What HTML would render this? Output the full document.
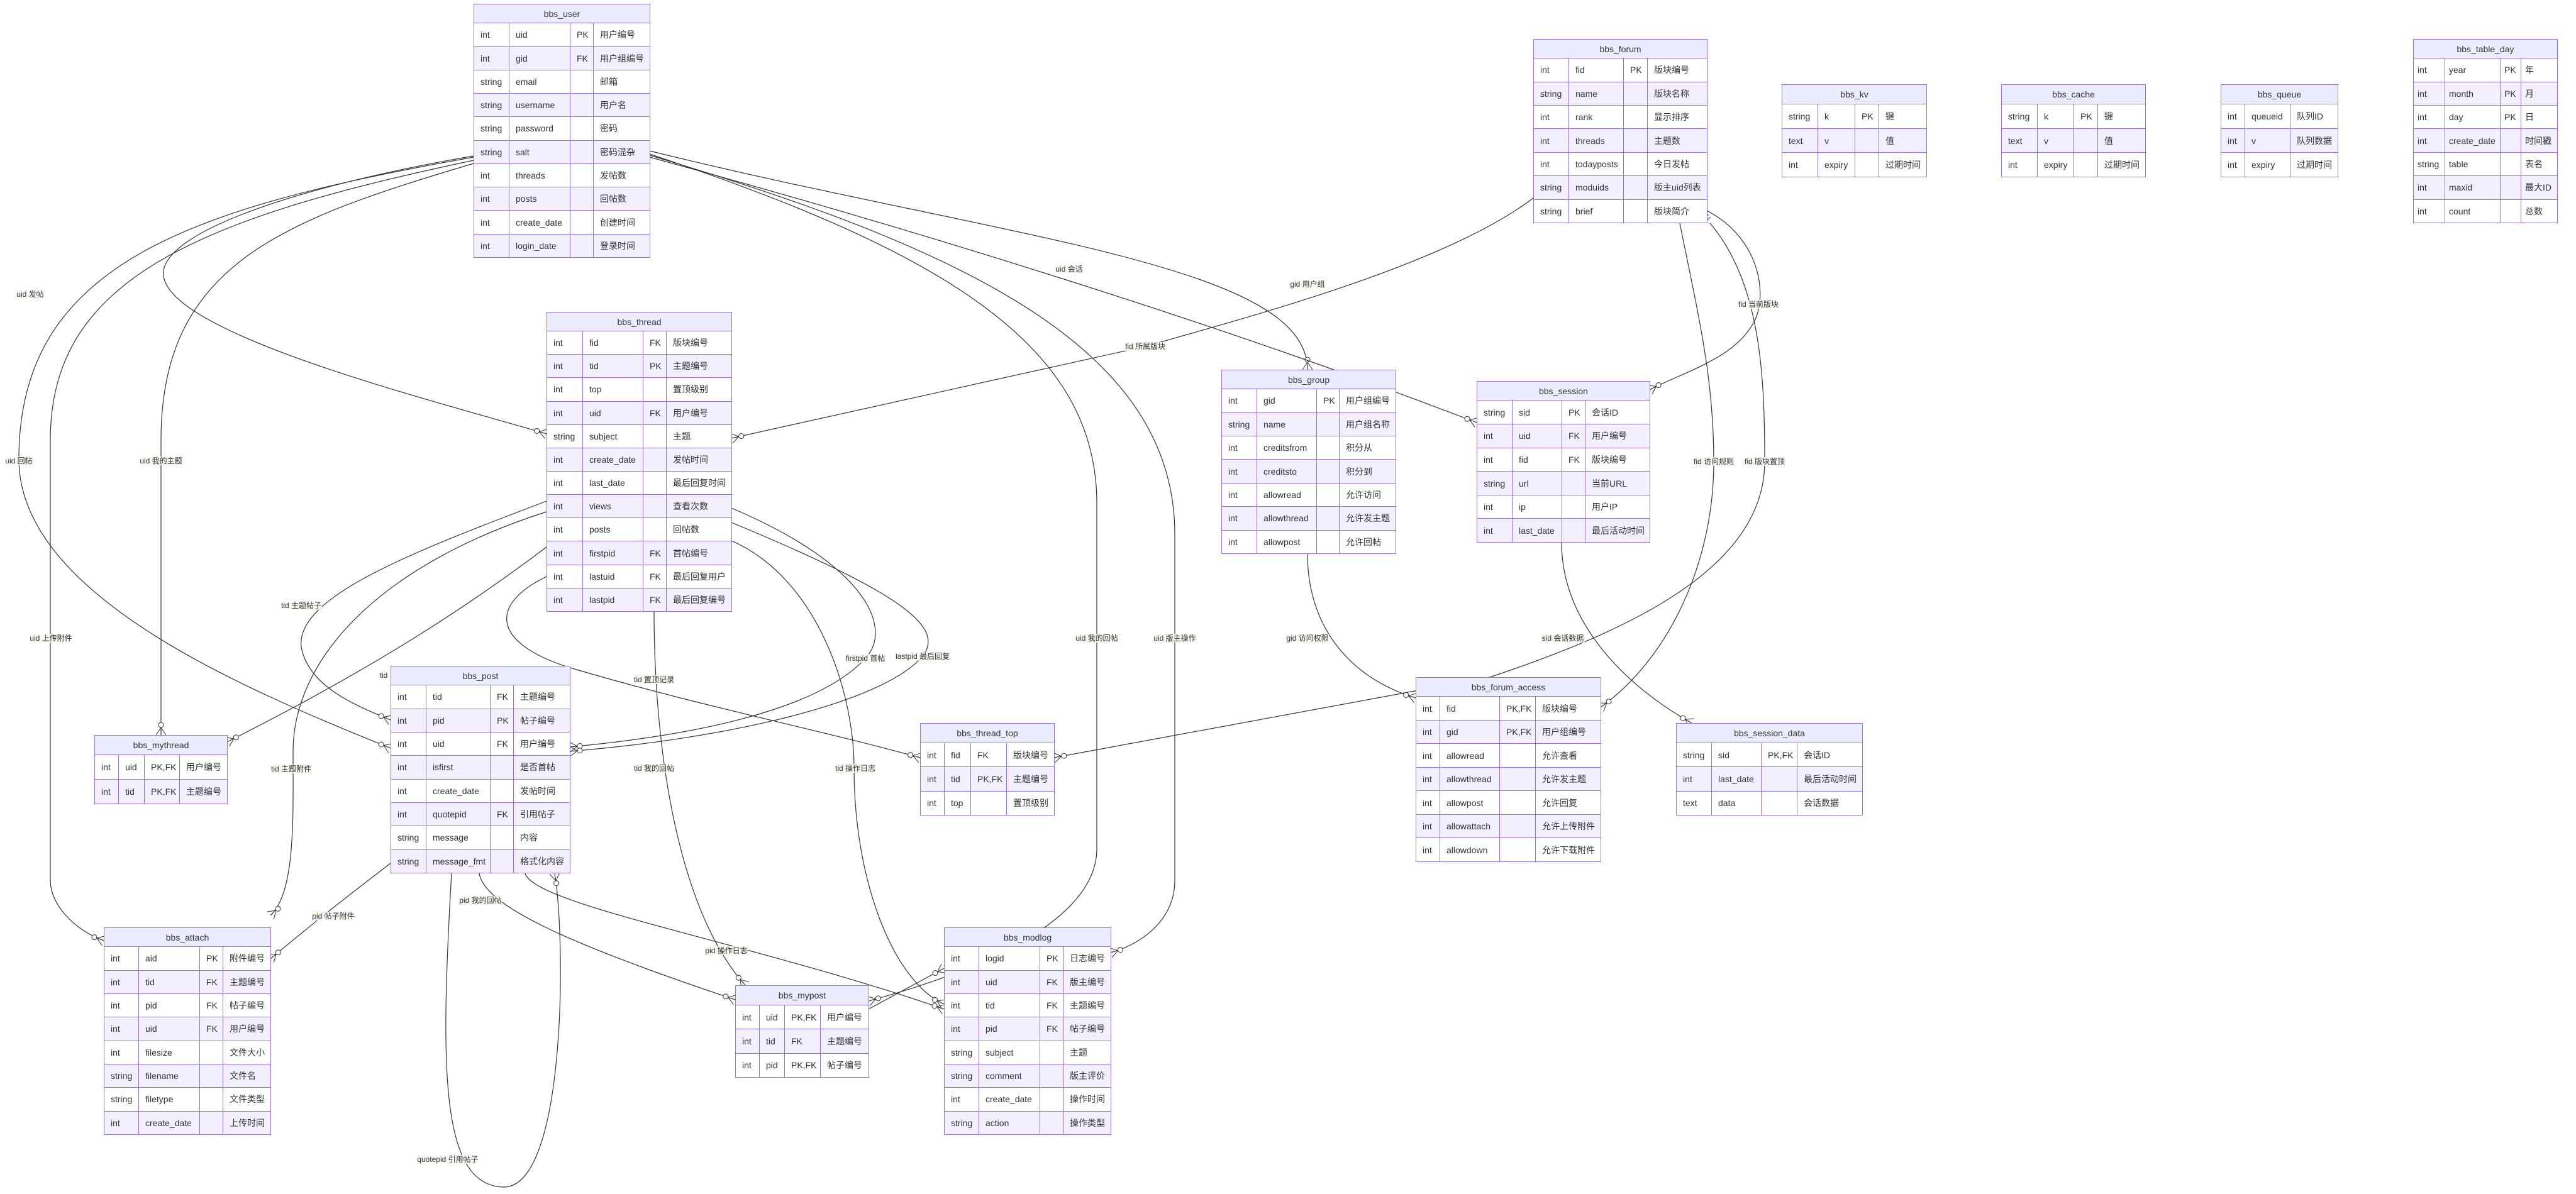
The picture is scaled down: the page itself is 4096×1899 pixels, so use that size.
<!DOCTYPE html>
<html><head><meta charset="utf-8">
<style>
html,body{margin:0;padding:0;background:#fff;}
body{width:4096px;height:1899px;position:relative;overflow:hidden;}
svg{position:absolute;left:0;top:0;}
table{position:absolute;border-collapse:collapse;table-layout:fixed;font-family:"Liberation Sans","Noto Sans CJK SC",sans-serif;font-size:14px;color:#333;background:#fff;}
td,th{border:1.5px solid #9370DB;padding:0 0 0 10px;white-space:nowrap;overflow:hidden;text-align:left;}
th{background:#ECECFF;font-weight:normal;text-align:center;padding:0;}
tr:nth-child(odd) td{background:#F2F0FF;}
table.tight td{padding-left:6px;}
.l{position:absolute;font-family:"Liberation Sans","Noto Sans CJK SC",sans-serif;font-size:12px;color:#333;background:rgba(244,248,236,0.85);transform:translate(-50%,-50%);white-space:nowrap;line-height:14px;padding:0 1px;}
</style></head><body>
<svg width="4096" height="1899" viewBox="0 0 4096 1899">
<defs>
<marker id="e" viewBox="0 0 22 20" refX="21" refY="10" markerWidth="22" markerHeight="20" orient="auto" markerUnits="userSpaceOnUse"><circle cx="5" cy="10" r="4" fill="#fff" stroke="#333" stroke-width="1"/><path d="M9,10 L21,2 M9,10 L21,18" fill="none" stroke="#333" stroke-width="1"/></marker>
<marker id="s" viewBox="0 0 20 20" refX="1" refY="10" markerWidth="20" markerHeight="20" orient="auto-start-reverse" markerUnits="userSpaceOnUse"><path d="M8,3 L8,17 M13,3 L13,17" fill="none" stroke="#333" stroke-width="1"/></marker>
</defs>
<g fill="none" stroke="#333" stroke-width="1.2" marker-start="url(#s)" marker-end="url(#e)">
<path d="M753,248 C 450,300 230,380 263,449 C 300,540 700,640 869,690"/>
<path d="M753,250 C 300,330 30,420 30,730 C 30,950 400,1100 621,1190"/>
<path d="M753,255 C 300,350 80,450 80,700 L 80,1400 C 80,1440 120,1480 165,1496"/>
<path d="M753,260 C 450,350 256,420 256,700 L 256,1169"/>
<path d="M1033,240 C 1600,380 2079,420 2079,588"/>
<path d="M1033,250 C 1400,350 1900,500 2348,672"/>
<path d="M1033,245 C 1500,400 1744,550 1744,800 L1744,1350 C1744,1480 1500,1560 1381,1592"/>
<path d="M1033,247 C 1550,400 1868,560 1868,850 L1868,1400 C1868,1460 1820,1500 1766,1515"/>
<path d="M2438,315 C 2300,420 2000,500 1821,551 L 1163,697"/>
<path d="M2714,335 C 2800,380 2810,470 2790,510 C 2760,570 2680,590 2623,620"/>
<path d="M2671,355 C 2700,500 2725,600 2725,734 C 2725,900 2650,1050 2545,1125"/>
<path d="M2719,355 C 2800,450 2806,600 2806,734 C 2806,900 2600,1000 2369,1077 L 1676,1205"/>
<path d="M2079,881 C 2079,1000 2150,1080 2251,1110"/>
<path d="M2483,863 C 2483,1000 2600,1100 2690,1150"/>
<path d="M869,797 C 650,880 470,950 479,1029 C 490,1090 560,1120 621,1145"/>
<path d="M869,814 C 600,900 466,1050 466,1195 C 466,1300 470,1420 430,1456"/>
<path d="M869,870 C 750,960 600,1060 361,1180"/>
<path d="M869,917 C 780,960 780,1020 900,1060 C 1100,1120 1300,1160 1463,1205"/>
<path d="M1040,973 C 1040,1200 1080,1450 1185,1567"/>
<path d="M1163,860 C 1300,920 1358,1100 1358,1222 C 1358,1400 1420,1560 1501,1597"/>
<path d="M1163,808 C 1380,900 1420,1000 1376,1047 C 1300,1130 1100,1170 906,1188"/>
<path d="M1163,831 C 1450,950 1500,1000 1467,1044 C 1400,1120 1150,1175 906,1195"/>
<path d="M621,1373 C 560,1420 520,1450 430,1525"/>
<path d="M762,1389 C 770,1440 900,1500 1169,1590"/>
<path d="M835,1389 C 850,1440 1200,1500 1501,1605"/>
<path d="M718,1389 C 700,1700 700,1885 800,1888 C 900,1890 900,1500 882,1389"/>
<path d="M1381,1605 L 1501,1540"/>
</g>
</svg>

<div class="l" style="left:48px;top:468px">uid 发帖</div>
<div class="l" style="left:30px;top:733px">uid 回帖</div>
<div class="l" style="left:256px;top:733px">uid 我的主题</div>
<div class="l" style="left:81px;top:1015px">uid 上传附件</div>
<div class="l" style="left:479px;top:963px">tid 主题帖子</div>
<div class="l" style="left:463px;top:1223px">tid 主题附件</div>
<div class="l" style="left:610px;top:1074px">tid</div>
<div class="l" style="left:1040px;top:1081px">tid 置顶记录</div>
<div class="l" style="left:1040px;top:1222px">tid 我的回帖</div>
<div class="l" style="left:1360px;top:1222px">tid 操作日志</div>
<div class="l" style="left:1376px;top:1047px">firstpid 首帖</div>
<div class="l" style="left:1467px;top:1044px">lastpid 最后回复</div>
<div class="l" style="left:530px;top:1457px">pid 帖子附件</div>
<div class="l" style="left:764px;top:1432px">pid 我的回帖</div>
<div class="l" style="left:1155px;top:1512px">pid 操作日志</div>
<div class="l" style="left:712px;top:1844px">quotepid 引用帖子</div>
<div class="l" style="left:1700px;top:428px">uid 会话</div>
<div class="l" style="left:2079px;top:452px">gid 用户组</div>
<div class="l" style="left:1821px;top:551px">fid 所属版块</div>
<div class="l" style="left:2796px;top:484px">fid 当前版块</div>
<div class="l" style="left:2725px;top:734px">fid 访问规则</div>
<div class="l" style="left:2806px;top:734px">fid 版块置顶</div>
<div class="l" style="left:1744px;top:1015px">uid 我的回帖</div>
<div class="l" style="left:1868px;top:1015px">uid 版主操作</div>
<div class="l" style="left:2079px;top:1015px">gid 访问权限</div>
<div class="l" style="left:2485px;top:1015px">sid 会话数据</div>

<table style="left:753px;top:6px;width:280px;height:404px"><colgroup><col style="width:56px"><col style="width:97px"><col style="width:37px"><col style="width:90px"></colgroup>
<tr><th colspan="4">bbs_user</th></tr>
<tr><td>int</td><td>uid</td><td>PK</td><td>用户编号</td></tr>
<tr><td>int</td><td>gid</td><td>FK</td><td>用户组编号</td></tr>
<tr><td>string</td><td>email</td><td></td><td>邮箱</td></tr>
<tr><td>string</td><td>username</td><td></td><td>用户名</td></tr>
<tr><td>string</td><td>password</td><td></td><td>密码</td></tr>
<tr><td>string</td><td>salt</td><td></td><td>密码混杂</td></tr>
<tr><td>int</td><td>threads</td><td></td><td>发帖数</td></tr>
<tr><td>int</td><td>posts</td><td></td><td>回帖数</td></tr>
<tr><td>int</td><td>create_date</td><td></td><td>创建时间</td></tr>
<tr><td>int</td><td>login_date</td><td></td><td>登录时间</td></tr>
</table>

<table style="left:869px;top:496px;width:294px;height:477px"><colgroup><col style="width:57px"><col style="width:96px"><col style="width:37px"><col style="width:104px"></colgroup>
<tr><th colspan="4">bbs_thread</th></tr>
<tr><td>int</td><td>fid</td><td>FK</td><td>版块编号</td></tr>
<tr><td>int</td><td>tid</td><td>PK</td><td>主题编号</td></tr>
<tr><td>int</td><td>top</td><td></td><td>置顶级别</td></tr>
<tr><td>int</td><td>uid</td><td>FK</td><td>用户编号</td></tr>
<tr><td>string</td><td>subject</td><td></td><td>主题</td></tr>
<tr><td>int</td><td>create_date</td><td></td><td>发帖时间</td></tr>
<tr><td>int</td><td>last_date</td><td></td><td>最后回复时间</td></tr>
<tr><td>int</td><td>views</td><td></td><td>查看次数</td></tr>
<tr><td>int</td><td>posts</td><td></td><td>回帖数</td></tr>
<tr><td>int</td><td>firstpid</td><td>FK</td><td>首帖编号</td></tr>
<tr><td>int</td><td>lastuid</td><td>FK</td><td>最后回复用户</td></tr>
<tr><td>int</td><td>lastpid</td><td>FK</td><td>最后回复编号</td></tr>
</table>

<table style="left:2438px;top:62px;width:276px;height:293px"><colgroup><col style="width:56px"><col style="width:87px"><col style="width:38px"><col style="width:95px"></colgroup>
<tr><th colspan="4">bbs_forum</th></tr>
<tr><td>int</td><td>fid</td><td>PK</td><td>版块编号</td></tr>
<tr><td>string</td><td>name</td><td></td><td>版块名称</td></tr>
<tr><td>int</td><td>rank</td><td></td><td>显示排序</td></tr>
<tr><td>int</td><td>threads</td><td></td><td>主题数</td></tr>
<tr><td>int</td><td>todayposts</td><td></td><td>今日发帖</td></tr>
<tr><td>string</td><td>moduids</td><td></td><td>版主uid列表</td></tr>
<tr><td>string</td><td>brief</td><td></td><td>版块简介</td></tr>
</table>

<table style="left:2833px;top:134px;width:230px;height:148px"><colgroup><col style="width:57px"><col style="width:59px"><col style="width:38px"><col style="width:76px"></colgroup>
<tr><th colspan="4">bbs_kv</th></tr>
<tr><td>string</td><td>k</td><td>PK</td><td>键</td></tr>
<tr><td>text</td><td>v</td><td></td><td>值</td></tr>
<tr><td>int</td><td>expiry</td><td></td><td>过期时间</td></tr>
</table>

<table style="left:3182px;top:134px;width:229px;height:148px"><colgroup><col style="width:57px"><col style="width:58px"><col style="width:38px"><col style="width:76px"></colgroup>
<tr><th colspan="4">bbs_cache</th></tr>
<tr><td>string</td><td>k</td><td>PK</td><td>键</td></tr>
<tr><td>text</td><td>v</td><td></td><td>值</td></tr>
<tr><td>int</td><td>expiry</td><td></td><td>过期时间</td></tr>
</table>

<table style="left:3531px;top:134px;width:186px;height:148px"><colgroup><col style="width:38px"><col style="width:72px"><col style="width:76px"></colgroup>
<tr><th colspan="3">bbs_queue</th></tr>
<tr><td>int</td><td>queueid</td><td>队列ID</td></tr>
<tr><td>int</td><td>v</td><td>队列数据</td></tr>
<tr><td>int</td><td>expiry</td><td>过期时间</td></tr>
</table>

<table class="tight" style="left:3837px;top:62px;width:229px;height:293px"><colgroup><col style="width:50px"><col style="width:88px"><col style="width:33px"><col style="width:58px"></colgroup>
<tr><th colspan="4">bbs_table_day</th></tr>
<tr><td>int</td><td>year</td><td>PK</td><td>年</td></tr>
<tr><td>int</td><td>month</td><td>PK</td><td>月</td></tr>
<tr><td>int</td><td>day</td><td>PK</td><td>日</td></tr>
<tr><td>int</td><td>create_date</td><td></td><td>时间戳</td></tr>
<tr><td>string</td><td>table</td><td></td><td>表名</td></tr>
<tr><td>int</td><td>maxid</td><td></td><td>最大ID</td></tr>
<tr><td>int</td><td>count</td><td></td><td>总数</td></tr>
</table>

<table style="left:1942px;top:588px;width:277px;height:293px"><colgroup><col style="width:56px"><col style="width:95px"><col style="width:36px"><col style="width:90px"></colgroup>
<tr><th colspan="4">bbs_group</th></tr>
<tr><td>int</td><td>gid</td><td>PK</td><td>用户组编号</td></tr>
<tr><td>string</td><td>name</td><td></td><td>用户组名称</td></tr>
<tr><td>int</td><td>creditsfrom</td><td></td><td>积分从</td></tr>
<tr><td>int</td><td>creditsto</td><td></td><td>积分到</td></tr>
<tr><td>int</td><td>allowread</td><td></td><td>允许访问</td></tr>
<tr><td>int</td><td>allowthread</td><td></td><td>允许发主题</td></tr>
<tr><td>int</td><td>allowpost</td><td></td><td>允许回帖</td></tr>
</table>

<table style="left:2348px;top:606px;width:275px;height:257px"><colgroup><col style="width:56px"><col style="width:79px"><col style="width:37px"><col style="width:103px"></colgroup>
<tr><th colspan="4">bbs_session</th></tr>
<tr><td>string</td><td>sid</td><td>PK</td><td>会话ID</td></tr>
<tr><td>int</td><td>uid</td><td>FK</td><td>用户编号</td></tr>
<tr><td>int</td><td>fid</td><td>FK</td><td>版块编号</td></tr>
<tr><td>string</td><td>url</td><td></td><td>当前URL</td></tr>
<tr><td>int</td><td>ip</td><td></td><td>用户IP</td></tr>
<tr><td>int</td><td>last_date</td><td></td><td>最后活动时间</td></tr>
</table>

<table style="left:621px;top:1059px;width:285px;height:330px"><colgroup><col style="width:56px"><col style="width:102px"><col style="width:37px"><col style="width:90px"></colgroup>
<tr><th colspan="4">bbs_post</th></tr>
<tr><td>int</td><td>tid</td><td>FK</td><td>主题编号</td></tr>
<tr><td>int</td><td>pid</td><td>PK</td><td>帖子编号</td></tr>
<tr><td>int</td><td>uid</td><td>FK</td><td>用户编号</td></tr>
<tr><td>int</td><td>isfirst</td><td></td><td>是否首帖</td></tr>
<tr><td>int</td><td>create_date</td><td></td><td>发帖时间</td></tr>
<tr><td>int</td><td>quotepid</td><td>FK</td><td>引用帖子</td></tr>
<tr><td>string</td><td>message</td><td></td><td>内容</td></tr>
<tr><td>string</td><td>message_fmt</td><td></td><td>格式化内容</td></tr>
</table>

<table style="left:150px;top:1169px;width:211px;height:110px"><colgroup><col style="width:38px"><col style="width:41px"><col style="width:56px"><col style="width:76px"></colgroup>
<tr><th colspan="4">bbs_mythread</th></tr>
<tr><td>int</td><td>uid</td><td>PK,FK</td><td>用户编号</td></tr>
<tr><td>int</td><td>tid</td><td>PK,FK</td><td>主题编号</td></tr>
</table>

<table style="left:1463px;top:1150px;width:213px;height:147px"><colgroup><col style="width:38px"><col style="width:42px"><col style="width:57px"><col style="width:76px"></colgroup>
<tr><th colspan="4">bbs_thread_top</th></tr>
<tr><td>int</td><td>fid</td><td>FK</td><td>版块编号</td></tr>
<tr><td>int</td><td>tid</td><td>PK,FK</td><td>主题编号</td></tr>
<tr><td>int</td><td>top</td><td></td><td>置顶级别</td></tr>
</table>

<table style="left:2251px;top:1077px;width:294px;height:294px"><colgroup><col style="width:38px"><col style="width:95px"><col style="width:57px"><col style="width:104px"></colgroup>
<tr><th colspan="4">bbs_forum_access</th></tr>
<tr><td>int</td><td>fid</td><td>PK,FK</td><td>版块编号</td></tr>
<tr><td>int</td><td>gid</td><td>PK,FK</td><td>用户组编号</td></tr>
<tr><td>int</td><td>allowread</td><td></td><td>允许查看</td></tr>
<tr><td>int</td><td>allowthread</td><td></td><td>允许发主题</td></tr>
<tr><td>int</td><td>allowpost</td><td></td><td>允许回复</td></tr>
<tr><td>int</td><td>allowattach</td><td></td><td>允许上传附件</td></tr>
<tr><td>int</td><td>allowdown</td><td></td><td>允许下载附件</td></tr>
</table>

<table style="left:2665px;top:1150px;width:296px;height:147px"><colgroup><col style="width:56px"><col style="width:79px"><col style="width:57px"><col style="width:104px"></colgroup>
<tr><th colspan="4">bbs_session_data</th></tr>
<tr><td>string</td><td>sid</td><td>PK,FK</td><td>会话ID</td></tr>
<tr><td>int</td><td>last_date</td><td></td><td>最后活动时间</td></tr>
<tr><td>text</td><td>data</td><td></td><td>会话数据</td></tr>
</table>

<table style="left:165px;top:1475px;width:265px;height:330px"><colgroup><col style="width:55px"><col style="width:97px"><col style="width:37px"><col style="width:76px"></colgroup>
<tr><th colspan="4">bbs_attach</th></tr>
<tr><td>int</td><td>aid</td><td>PK</td><td>附件编号</td></tr>
<tr><td>int</td><td>tid</td><td>FK</td><td>主题编号</td></tr>
<tr><td>int</td><td>pid</td><td>FK</td><td>帖子编号</td></tr>
<tr><td>int</td><td>uid</td><td>FK</td><td>用户编号</td></tr>
<tr><td>int</td><td>filesize</td><td></td><td>文件大小</td></tr>
<tr><td>string</td><td>filename</td><td></td><td>文件名</td></tr>
<tr><td>string</td><td>filetype</td><td></td><td>文件类型</td></tr>
<tr><td>int</td><td>create_date</td><td></td><td>上传时间</td></tr>
</table>

<table style="left:1169px;top:1567px;width:212px;height:147px"><colgroup><col style="width:38px"><col style="width:40px"><col style="width:57px"><col style="width:77px"></colgroup>
<tr><th colspan="4">bbs_mypost</th></tr>
<tr><td>int</td><td>uid</td><td>PK,FK</td><td>用户编号</td></tr>
<tr><td>int</td><td>tid</td><td>FK</td><td>主题编号</td></tr>
<tr><td>int</td><td>pid</td><td>PK,FK</td><td>帖子编号</td></tr>
</table>

<table style="left:1501px;top:1475px;width:265px;height:330px"><colgroup><col style="width:55px"><col style="width:97px"><col style="width:37px"><col style="width:76px"></colgroup>
<tr><th colspan="4">bbs_modlog</th></tr>
<tr><td>int</td><td>logid</td><td>PK</td><td>日志编号</td></tr>
<tr><td>int</td><td>uid</td><td>FK</td><td>版主编号</td></tr>
<tr><td>int</td><td>tid</td><td>FK</td><td>主题编号</td></tr>
<tr><td>int</td><td>pid</td><td>FK</td><td>帖子编号</td></tr>
<tr><td>string</td><td>subject</td><td></td><td>主题</td></tr>
<tr><td>string</td><td>comment</td><td></td><td>版主评价</td></tr>
<tr><td>int</td><td>create_date</td><td></td><td>操作时间</td></tr>
<tr><td>string</td><td>action</td><td></td><td>操作类型</td></tr>
</table>
</body></html>
